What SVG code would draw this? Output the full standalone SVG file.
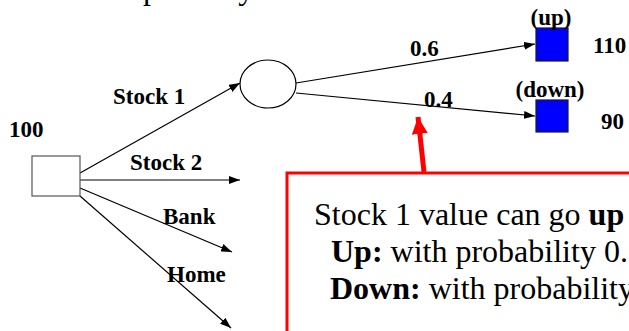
<svg xmlns="http://www.w3.org/2000/svg" width="629" height="331" viewBox="0 0 629 331">
<defs>
<marker id="ah" markerWidth="11" markerHeight="8" refX="11" refY="4" orient="auto" markerUnits="userSpaceOnUse">
<path d="M0,0 L11,4 L0,8 Z" fill="#000"/>
</marker>
<marker id="rah" markerWidth="18" markerHeight="18" refX="17" refY="9" orient="auto" markerUnits="userSpaceOnUse">
<path d="M0,1 L17,9 L0,17 Z" fill="#ff0000"/>
</marker>
</defs>
<style>
.lbl{font-family:"Liberation Serif","Times New Roman",serif;font-weight:bold;font-size:23px;fill:#000}
.body{font-family:"Liberation Serif","Times New Roman",serif;font-size:32px;fill:#000}
.edge{stroke:#000;stroke-width:1.2;fill:none;marker-end:url(#ah)}
.leaf{fill:#0000ff;stroke:#1a1a1a;stroke-width:1.2}
</style>
<rect width="629" height="331" fill="#fff"/>
<text class="body" x="64" y="-1">or keep money at home</text>

<g id="connectors">
<line class="edge" x1="80" y1="173" x2="240" y2="83"/>
<line class="edge" x1="80" y1="180" x2="240" y2="180"/>
<line class="edge" x1="80" y1="188" x2="232" y2="252"/>
<line class="edge" x1="80" y1="196" x2="231" y2="328"/>
<line class="edge" x1="296" y1="83" x2="535" y2="44"/>
<line class="edge" x1="296" y1="93" x2="535" y2="116"/>
</g>

<g id="decision">
<rect x="32" y="156" width="48" height="40" fill="#fff" stroke="#555" stroke-width="1.2"/>
<text class="lbl" x="9" y="137">100</text>
</g>
<g id="chance">
<ellipse cx="268" cy="84" rx="28" ry="24" fill="#fff" stroke="#000" stroke-width="1.2"/>
</g>
<g id="up">
<rect class="leaf" x="536" y="28" width="32" height="33"/>
<text class="lbl" x="551" y="25" text-anchor="middle">(up)</text>
<text class="lbl" x="593" y="53">110</text>
</g>
<g id="down">
<rect class="leaf" x="536" y="100" width="32" height="32"/>
<text class="lbl" x="550" y="97" text-anchor="middle">(down)</text>
<text class="lbl" x="601" y="129">90</text>
</g>

<g id="edge-labels">
<text class="lbl" x="113" y="104">Stock 1</text>
<text class="lbl" x="130" y="170">Stock 2</text>
<text class="lbl" x="163" y="224">Bank</text>
<text class="lbl" x="167" y="282">Home</text>
<text class="lbl" x="410" y="56">0.6</text>
<text class="lbl" x="424" y="107">0.4</text>
</g>

<g id="callout">
<rect x="287" y="173" width="360" height="180" fill="#fff" stroke="#ff0000" stroke-width="3"/>
<line x1="424" y1="172" x2="418" y2="117" stroke="#ff0000" stroke-width="5" marker-end="url(#rah)"/>
<text class="body" x="314" y="225">Stock 1 value can go <tspan font-weight="bold">up</tspan> or <tspan font-weight="bold">down</tspan></text>
<text class="body" x="331" y="262"><tspan font-weight="bold">Up:</tspan> with probability 0.6</text>
<text class="body" x="330" y="299"><tspan font-weight="bold">Down:</tspan> with probability 0.4</text>
</g>
</svg>
